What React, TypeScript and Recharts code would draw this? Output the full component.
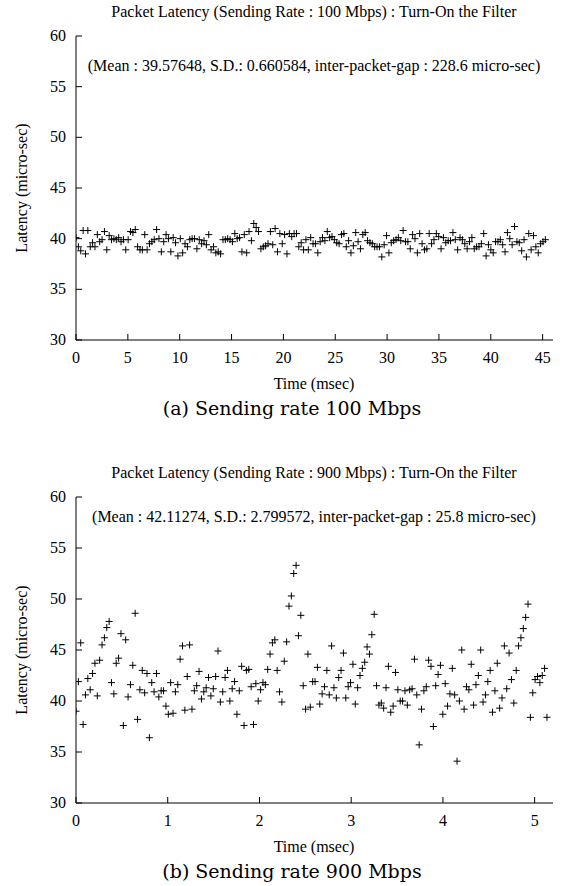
import React from "react";
import { ScatterChart, Scatter, XAxis, YAxis } from "recharts";

// inter-packet gaps in msec, as stated in each chart's note
const GAP_100 = 0.2286;
const GAP_900 = 0.0258;

// latency samples (micro-sec) in sending order
const latency100 = [
  40.1, 39.2, 38.8, 40.8, 38.5, 40.8, 39.2, 39.6, 39.2, 40.4,
  39.7, 39.9, 40.7, 38.9, 40.3, 39.9, 40.0, 39.9, 40.1, 39.7,
  39.9, 38.9, 39.9, 40.7, 40.6, 40.9, 39.2, 38.9, 38.9, 40.4,
  38.9, 39.5, 39.7, 39.9, 40.9, 40.0, 38.7, 39.7, 40.4, 40.0,
  38.7, 40.1, 39.6, 38.3, 40.0, 38.6, 39.5, 39.2, 39.9, 40.0,
  40.0, 39.0, 39.9, 39.5, 39.8, 39.4, 40.4, 38.9, 39.2, 38.6,
  38.7, 38.5, 39.9, 39.9, 40.0, 39.9, 39.7, 40.5, 40.0, 40.1,
  38.7, 40.4, 38.6, 40.7, 39.8, 41.5, 41.1, 40.7, 39.0, 39.2,
  39.3, 39.5, 40.7, 39.4, 41.0, 38.7, 40.5, 39.5, 40.4, 38.5,
  40.5, 40.2, 40.5, 40.5,
  39.2, 39.6, 38.9, 39.9, 38.9, 40.1, 39.5, 39.5, 38.6, 39.7,
  40.1, 39.8, 40.7, 40.1, 40.2, 39.9, 39.6, 39.5, 40.4, 40.5,
  39.2, 39.8, 38.6, 39.3, 40.6, 39.7, 39.0, 40.4, 40.6, 39.8,
  39.6, 39.5, 39.2, 39.2, 39.2, 38.2, 39.4, 40.3, 38.6, 39.6,
  39.8, 39.9, 40.1, 39.8, 40.8, 39.7, 39.7, 39.0, 40.4, 40.0,
  38.6, 40.5, 39.5, 38.9, 39.0, 40.5, 39.5, 39.9, 40.5, 40.2,
  39.0, 40.1, 39.6, 39.8, 39.8, 40.6, 39.9, 38.9, 40.1, 39.9,
  39.5, 39.0, 39.7, 40.1, 39.0, 39.2, 39.2, 39.5, 40.5, 38.3,
  39.4, 38.9, 38.6, 39.7, 39.7, 39.9, 39.4, 38.7, 40.6, 40.0,
  39.4, 41.2, 39.7, 39.6, 38.8, 39.9, 38.2, 40.5, 38.9, 40.3,
  39.2, 38.6, 39.5, 39.7, 39.9,
];

const latency900 = [
  39.0, 41.9, 45.7, 37.7, 40.6, 42.2, 41.1, 42.7, 43.7, 40.5,
  44.0, 45.5, 46.2, 47.2, 47.8, 41.8, 40.7, 43.7, 44.2, 46.6,
  37.6, 46.0, 40.4, 41.6, 43.5, 48.6, 38.2, 41.1, 43.0, 40.8,
  42.7, 36.4, 41.8, 40.9, 42.7, 40.4, 41.0, 41.0, 39.5, 38.7,
  41.8, 38.8, 40.9, 41.6, 44.1, 45.4, 39.1, 42.4, 45.5, 39.2,
  41.0, 41.5, 42.9, 40.2, 40.9, 41.3, 42.3, 40.5, 41.2, 42.4,
  44.9, 39.9, 40.9, 42.3, 43.0, 40.0, 41.2, 41.9, 38.7, 41.0,
  43.4, 37.6, 43.0, 43.1, 41.4, 37.7, 41.7, 40.0, 41.1, 41.8,
  41.6, 43.1, 44.6, 45.7, 46.0, 43.0, 40.9, 39.9, 43.9, 45.8,
  49.3, 50.3, 52.5, 53.3, 46.4, 48.4, 41.5, 39.2, 44.6, 39.4,
  41.9, 41.9, 43.3, 39.7, 40.7, 41.4, 43.0, 40.6, 45.4, 41.3,
  40.3, 42.3, 43.0, 44.7, 40.3, 41.4, 41.8, 43.6, 39.7, 41.3,
  42.5, 43.2, 43.8, 45.3, 44.6, 46.5, 48.5, 41.5, 39.6, 39.8,
  39.3, 41.3, 43.4, 38.9, 39.5, 42.8, 41.1, 40.0, 40.0, 41.0,
  39.6, 41.1, 41.2, 44.1, 40.6, 35.7, 39.2, 41.0, 41.4, 44.0,
  43.4, 37.5, 41.5, 42.6, 43.5, 38.7, 41.7, 39.5, 40.7, 43.2,
  40.6, 34.1, 40.0, 45.0, 39.2, 41.4, 41.1, 43.6, 39.6, 41.6,
  42.5, 45.0, 39.9, 40.6, 41.9, 43.0, 38.9, 41.0, 43.7, 39.3,
  40.3, 45.4, 41.2, 44.7, 42.1, 39.8, 43.0, 45.4, 46.2, 47.1,
  48.2, 49.5, 38.4, 40.8, 42.1, 42.4, 41.8, 42.5, 43.2, 38.4,
];

const xTicks100 = [0, 5, 10, 15, 20, 25, 30, 35, 40, 45];
const xTicks900 = [0, 1, 2, 3, 4, 5];
const yTicks = [30, 35, 40, 45, 50, 55, 60];

const SERIF = "'Liberation Serif', 'Times New Roman', serif";
const CAPTION_FONT = "'DejaVu Serif', serif";

const toPoints = (values: number[], gap: number) =>
  values.map((v, i) => ({ t: i * gap, v }));

const Plus = (props: any) => {
  const { cx, cy } = props;
  if (cx == null || cy == null) return null;
  return (
    <path
      d={`M${cx - 3.5},${cy}h7M${cx},${cy - 3.5}v7`}
      stroke="#000"
      strokeWidth={1}
      fill="none"
    />
  );
};

const BottomTick = (props: any) => {
  const { x, y, payload } = props;
  return (
    <g>
      <line x1={x} x2={x} y1={y} y2={y - 6} stroke="#000" />
      <text x={x} y={y + 23} textAnchor="middle" fontSize={16} fontFamily={SERIF} fill="#000">
        {payload.value}
      </text>
    </g>
  );
};

const TopTick = (props: any) => {
  const { x, y } = props;
  return <line x1={x} x2={x} y1={y} y2={y + 6} stroke="#000" />;
};

const LeftTick = (props: any) => {
  const { x, y, payload } = props;
  return (
    <g>
      <line x1={x} x2={x + 6} y1={y} y2={y} stroke="#000" />
      <text x={x - 10} y={y + 5} textAnchor="end" fontSize={16} fontFamily={SERIF} fill="#000">
        {payload.value}
      </text>
    </g>
  );
};

const RightTick = (props: any) => {
  const { x, y } = props;
  return <line x1={x} x2={x - 6} y1={y} y2={y} stroke="#000" />;
};

const Txt = ({ x, y, size, font, rotate, children }: any) => (
  <div
    style={{
      position: "absolute",
      left: x,
      top: y,
      transform: `translate(-50%, -50%)${rotate ? " rotate(-90deg)" : ""}`,
      whiteSpace: "nowrap",
      fontSize: size,
      fontFamily: font,
      lineHeight: 1,
      color: "#000",
    }}
  >
    {children}
  </div>
);

type PanelProps = {
  top: number;
  title: string;
  note: string;
  noteY: number;
  caption: string;
  values: number[];
  gap: number;
  xMax: number;
  xTicks: number[];
  plotHeight: number;
};

const Panel = ({ top, title, note, noteY, caption, values, gap, xMax, xTicks, plotHeight }: PanelProps) => {
  const data = toPoints(values, gap);
  const height = 36 + plotHeight + 40 + 20;
  const bottom = 36 + plotHeight;
  return (
    <div style={{ position: "absolute", left: 0, top, width: 570, height: 461 }}>
      <ScatterChart width={570} height={height} margin={{ top: 36, right: 17, bottom: 20, left: 0 }}>
        <XAxis
          xAxisId="b"
          dataKey="t"
          type="number"
          domain={[0, xMax]}
          ticks={xTicks}
          allowDataOverflow
          height={40}
          tickSize={0}
          tickMargin={0}
          tickLine={false}
          axisLine={{ stroke: "#000" }}
          tick={<BottomTick />}
          interval={0}
        />
        <XAxis
          xAxisId="t"
          orientation="top"
          dataKey="t"
          type="number"
          domain={[0, xMax]}
          ticks={xTicks}
          allowDataOverflow
          height={0}
          tickSize={0}
          tickMargin={0}
          tickLine={false}
          axisLine={{ stroke: "#000" }}
          tick={<TopTick />}
          interval={0}
        />
        <YAxis
          yAxisId="l"
          dataKey="v"
          type="number"
          domain={[30, 60]}
          ticks={yTicks}
          allowDataOverflow
          width={76}
          tickSize={0}
          tickMargin={0}
          tickLine={false}
          axisLine={{ stroke: "#000" }}
          tick={<LeftTick />}
          interval={0}
        />
        <YAxis
          yAxisId="r"
          orientation="right"
          dataKey="v"
          type="number"
          domain={[30, 60]}
          ticks={yTicks}
          allowDataOverflow
          width={0}
          tickSize={0}
          tickMargin={0}
          tickLine={false}
          axisLine={{ stroke: "#000" }}
          tick={<RightTick />}
          interval={0}
        />
        <Scatter data={data} xAxisId="b" yAxisId="l" shape={<Plus />} isAnimationActive={false} />
        <Scatter data={data} xAxisId="t" yAxisId="r" shape={() => null} isAnimationActive={false} />
      </ScatterChart>
      <Txt x={314} y={12} size={16} font={SERIF}>{title}</Txt>
      <Txt x={314} y={noteY} size={16} font={SERIF}>{note}</Txt>
      <Txt x={314} y={bottom + 44} size={16} font={SERIF}>Time (msec)</Txt>
      <Txt x={292} y={bottom + 68} size={19} font={CAPTION_FONT}>{caption}</Txt>
      <Txt x={22} y={36 + plotHeight / 2} size={16} font={SERIF} rotate>
        Latency (micro-sec)
      </Txt>
    </div>
  );
};

export default function App() {
  return (
    <div style={{ position: "absolute", left: 0, top: 0, width: 570, height: 886, background: "#fff" }}>
      <Panel
        top={0}
        title="Packet Latency (Sending Rate : 100 Mbps) : Turn-On the Filter"
        note="(Mean : 39.57648, S.D.: 0.660584, inter-packet-gap : 228.6 micro-sec)"
        noteY={66}
        caption="(a) Sending rate 100 Mbps"
        values={latency100}
        gap={GAP_100}
        xMax={46}
        xTicks={xTicks100}
        plotHeight={304}
      />
      <Panel
        top={461}
        title="Packet Latency (Sending Rate : 900 Mbps) : Turn-On the Filter"
        note="(Mean : 42.11274, S.D.: 2.799572, inter-packet-gap : 25.8 micro-sec)"
        noteY={56}
        caption="(b) Sending rate 900 Mbps"
        values={latency900}
        gap={GAP_900}
        xMax={5.2}
        xTicks={xTicks900}
        plotHeight={306}
      />
    </div>
  );
}
